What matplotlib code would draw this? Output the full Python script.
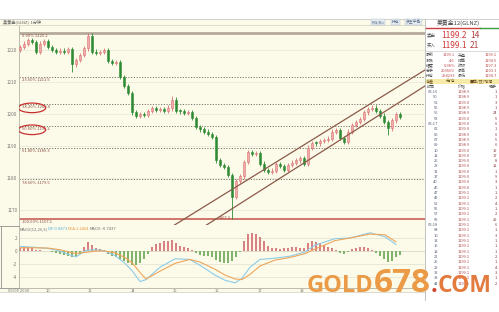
import matplotlib
matplotlib.use("Agg")
import matplotlib.pyplot as plt
from matplotlib.patches import Ellipse, Rectangle
from matplotlib.lines import Line2D
import numpy as np

plt.rcParams['font.family'] = ['Noto Sans CJK SC', 'DejaVu Sans']

W, H = 499, 312

# ---- price data (one candle per slot, opens follow previous close) ----
first_open = 1220.0
closes = [1221.0, 1222.0, 1223.0, 1222.5, 1219.5, 1222.0, 1222.8, 1221.0, 1220.0, 1219.5,
          1219.8, 1219.3, 1220.2, 1215.5, 1216.8, 1218.5, 1220.5, 1224.5, 1219.5, 1219.0,
          1219.3, 1220.0, 1216.5, 1216.0, 1216.3, 1211.5, 1208.8, 1206.5, 1200.5, 1199.5,
          1200.0, 1199.8, 1201.0, 1201.8, 1201.2, 1201.6, 1201.0, 1202.0, 1204.5, 1201.0,
          1200.8, 1200.3, 1200.6, 1198.8, 1196.0, 1195.2, 1194.5, 1193.8, 1192.8, 1185.5,
          1184.0, 1183.5, 1181.0, 1174.0, 1179.0, 1180.5, 1185.0, 1188.0, 1187.5, 1187.8,
          1184.5, 1182.5, 1182.0, 1182.3, 1184.3, 1183.8, 1182.5, 1184.0, 1184.8, 1185.5,
          1186.2, 1184.5, 1189.5, 1191.0, 1190.8, 1191.5, 1191.8, 1192.3, 1194.5, 1195.0,
          1192.5, 1191.2, 1194.5, 1196.5, 1197.5, 1198.5, 1200.5, 1201.5, 1202.0, 1201.0,
          1199.5, 1197.5, 1195.5, 1198.0, 1200.0, 1199.1]
spike_idx = [13, 17, 38, 53, 92]
spike_high = [1216.0, 1225.2, 1205.6, 1181.0, 1196.0]
spike_low = [1213.0, 1219.8, 1200.8, 1167.3, 1193.5]

# fibonacci retracement
fib_top = 1225.2
fib_bottom = 1167.1
fib_pcts = [0.0, 23.6, 38.2, 50.0, 61.8, 78.6, 100.0]
circled_pcts = [38.2, 50.0]

# channel lines (candle index, price)
channel_x = [38.25, 101.25]
upper_y = [1165.0, 1213.75]
lower_x = [46.25, 101.25]
lower_y = [1165.0, 1208.75]

# MACD
hist = [0.5, 0.6, 0.55, 0.4, 0.15, 0.1, 0.05, -0.05, -0.2, -0.35,
        -0.5, -0.6, -0.7, -0.9, -0.8, -0.4, 0.6, 1.4, 0.9, 0.5,
        0.3, 0.1, -0.4, -0.7, -0.9, -1.3, -1.6, -1.9, -2.2, -2.1,
        -1.8, -1.2, -0.4, 0.6, 1.1, 1.3, 1.5, 1.6, 1.7, 1.2,
        0.8, 0.6, 0.5, 0.2, -0.3, -0.6, -0.7, -0.8, -0.9, -1.4,
        -1.7, -1.9, -1.8, -1.6, -0.9, -0.2, 1.6, 2.6, 2.8, 2.6,
        2.2, 1.5, 0.8, 0.4, 0.4, 0.3, 0.5, 0.5, 0.6, 0.6,
        0.5, 0.4, 1.2, 1.5, 1.4, 1.2, 0.9, 0.6, 0.4, 0.2,
        -0.3, -0.5, -0.1, 0.3, 0.5, 0.6, 0.6, 0.5, 0.2, -0.3,
        -0.8, -1.2, -1.7, -1.5, -0.9, -0.6]
macd_x = [0, 3, 7, 10, 12.5, 14, 16.5, 19, 21.25, 23.75, 26.25, 28, 30, 31.5, 35, 38.75,
          42.5, 45, 48.75, 51.25, 53.75, 55.5, 57.5, 60, 63.75, 67.5, 71.25, 73.75, 78.75,
          82.5, 87.5, 91.25, 94]
dif = [0.7, 0.6, 0.4, 0.0, -0.6, -0.9, 0.1, 0.2, 0.0, -0.7, -1.9, -3.0, -4.7, -4.4, -2.5, -1.2,
       -1.3, -2.2, -3.7, -4.5, -4.9, -4.2, -2.5, -1.3, -1.1, -0.8, -0.15, 0.9, 1.9, 2.0, 2.8, 2.2, 1.0]
dea = [0.5, 0.5, 0.45, 0.2, -0.2, -0.4, -0.2, 0.0, 0.0, -0.3, -1.0, -1.8, -3.3, -4.3, -3.1, -1.9,
       -1.3, -1.7, -2.8, -3.7, -4.3, -4.4, -3.6, -2.3, -1.4, -1.0, -0.4, 0.3, 1.6, 2.0, 2.6, 2.5, 1.4]

price_ticks = [1220, 1210, 1200, 1190, 1180, 1170]
macd_ticks = [2, 0, -2, -4]
day_pos = [-0.25, 7, 17.5, 28.25, 38.75, 49.25, 60, 70.5]
day_labels = ["09/05 2000", "10", "11", "14", "15", "16", "17", "18"]

# quote panel
quote_rows = [("最新", "1199.1", "开盘", "1199.1"),
              ("涨跌", "4.6", "结算", "1194.5"),
              ("幅度", "0.38%", "昨收", "1197.3"),
              ("总手", "203603", "最高", "1203.1"),
              ("持仓", "264233", "最低", "1194.7")]
tick_times = ["03:16", "50", "52", "55", "56", "58",
              "03:17", "02", "05", "07", "09", "10", "18", "26", "28", "31", "37", "40", "46",
              "47", "49", "52", "55", "57", "59",
              "03:18", "08", "10", "13", "16", "18", "21", "25", "29", "33", "38", "44"]
tick_prices = [1198.9, 1198.9, 1199.0, 1198.9, 1198.9, 1199.0,
               1199.0, 1199.0, 1198.9, 1198.9, 1198.9, 1199.0, 1199.0, 1199.0, 1199.0, 1199.0,
               1199.0, 1199.0, 1199.0, 1199.1, 1199.1, 1199.1, 1199.1, 1199.1, 1199.1,
               1199.1, 1199.1, 1199.1, 1199.1, 1199.1, 1199.1, 1199.1, 1199.1, 1199.1, 1199.1,
               1199.1, 1199.1]
tick_vols = [1, 1, 3, 1, 24, 5, 6, 1, 6, 5, 6, 19, 17, 8, 12, 1, 9, 3, 1, 1, 2, 4, 1, 2, 29,
             6, 1, 3, 1, 1, 1, 2, 1, 4, 3, 1, 2]

CREAM = '#fcfbe9'
UP_FACE = '#f2aaaa'
UP_EDGE = '#d77272'
DOWN = '#2e8b34'


def rect(x0, y0, x1, y1):
    return [x0 / W, 1 - y1 / H, (x1 - x0) / W, (y1 - y0) / H]


def fx(px):
    return px / W


def fy(py):
    return 1 - py / H


fig = plt.figure(figsize=(W / 100, H / 100), dpi=100)
fig.patch.set_facecolor('white')
fig.add_artist(Rectangle((0, fy(292)), fx(425), fy(19) - fy(292), transform=fig.transFigure,
                         facecolor=CREAM, edgecolor='none', zorder=0))

# ---- main candle panel ----
ax = fig.add_axes(rect(19, 25, 425, 225))
ax.set_facecolor(CREAM)
ax.set_xlim(-0.25, 101.25)
ax.set_ylim(1165.3, 1227.8)
for p in price_ticks:
    ax.axhline(p, color='#eceada', lw=0.6, zorder=0)

opens = [first_open] + closes[:-1]
for i, (o, c) in enumerate(zip(opens, closes)):
    hi = max(o, c) + 0.7
    lo = min(o, c) - 0.7
    if i in spike_idx:
        k = spike_idx.index(i)
        hi, lo = max(hi, spike_high[k]), min(lo, spike_low[k])
    up = c >= o
    ax.vlines(i, lo, hi, color=UP_EDGE if up else DOWN, lw=0.6, zorder=3)
    ax.bar(i, max(abs(c - o), 0.3), bottom=min(o, c), width=0.6,
           color=UP_FACE if up else DOWN, edgecolor=UP_EDGE if up else DOWN, lw=0.4, zorder=4)

for pct in fib_pcts:
    lvl = fib_top - pct / 100 * (fib_top - fib_bottom)
    if pct == 0:
        ax.axhline(lvl, color='#b5aa9c', lw=2.0, zorder=2)
    elif pct == 100:
        ax.axhline(lvl, color='#c4524a', lw=1.1, zorder=2)
    else:
        ax.axhline(lvl, color='#7a7468', lw=0.7, ls=(0, (1.2, 1.6)), zorder=2)
    ax.text(0.4, lvl - 0.35, f"{pct:.2f}% {lvl:.1f}", fontsize=3, color='#8a4a40',
            va='top', ha='left', zorder=5)
    if pct in circled_pcts:
        ax.add_patch(Ellipse((3.0, lvl - 1.1), 6.8, 3.0, facecolor='none',
                             edgecolor='#c83030', lw=0.9, zorder=6))

ax.plot(channel_x, upper_y, color='#8b5a4a', lw=0.9, zorder=5, clip_on=False)
ax.plot(lower_x, lower_y, color='#8b5a4a', lw=0.9, zorder=5, clip_on=False)
ax.text(52.6, 1167.6, "1167.3", fontsize=2.8, color='#8a4a40', ha='right', va='center', zorder=5)

ax.set_xticks([])
ax.set_yticks(price_ticks)
ax.set_yticklabels([str(p) for p in price_ticks])
ax.tick_params(axis='y', length=0, pad=1.2, labelsize=3.3, colors='#777777')
for s in ['top', 'right', 'bottom']:
    ax.spines[s].set_visible(False)
ax.spines['left'].set_color('#b4b2a4')
ax.spines['left'].set_linewidth(0.6)

# ---- MACD panel ----
ax2 = fig.add_axes(rect(19, 225, 425, 288))
ax2.set_facecolor(CREAM)
ax2.set_xlim(-0.25, 101.25)
ax2.set_ylim(-5.69, 4.0)
for t in macd_ticks:
    ax2.axhline(t, color='#e6e4d2' if t else '#d8d6c4', lw=0.6, zorder=0)
hcol = ['#d98080' if v >= 0 else '#7fb26a' for v in hist]
ax2.bar(np.arange(len(hist)), hist, width=0.5, color=hcol, zorder=2)
ax2.plot(macd_x, dif, color='#8ccbe8', lw=0.8, zorder=3)
ax2.plot(macd_x, dea, color='#efa55a', lw=0.8, zorder=3)
ax2.set_yticks(macd_ticks)
ax2.set_yticklabels([str(t) for t in macd_ticks])
ax2.set_xticks(day_pos)
ax2.set_xticklabels(day_labels)
ax2.tick_params(axis='y', length=0, pad=1.2, labelsize=3.3, colors='#777777')
ax2.tick_params(axis='x', length=0, pad=0.6, labelsize=3.0, colors='#777777')
for s in ['top', 'right']:
    ax2.spines[s].set_visible(False)
for s in ['left', 'bottom']:
    ax2.spines[s].set_color('#b4b2a4')
    ax2.spines[s].set_linewidth(0.6)

legend_parts = [(20, "MACD(12,26,9)", '#707070'), (48, "DIF:0.8873", '#5aaedc'),
                (68, "DEA:1.2464", '#e8963c'), (90, "MACD:-0.7437", '#707070')]
for px, txt, col in legend_parts:
    fig.text(fx(px), fy(229), txt, fontsize=3, color=col, va='center', ha='left')

# frame lines
for (x0, y0, x1, y1, col) in [(0, 19, 499, 19, '#c8c8c8'), (0, 25, 425, 25, '#d8d6c8'),
                              (0, 226, 19, 226, '#909090'), (0.5, 226, 0.5, 288, '#909090'),
                              (0, 288, 19, 288, '#909090'), (0, 292, 425, 292, '#d8d6c8'),
                              (425, 19, 425, 300, '#b8b8b8')]:
    fig.add_artist(Line2D([fx(x0), fx(x1)], [fy(y0), fy(y1)], transform=fig.transFigure,
                          color=col, lw=0.6))

fig.text(fx(3), fy(22), "美黄金(GLNZ)  1分钟", fontsize=3, color='#606060', va='center')
for px, txt in [(372, "K线/Bo"), (392, "持仓"), (406, "多空平衡")]:
    fig.text(fx(px), fy(22), txt, fontsize=2.8, color='#5a6a88', va='center',
             bbox=dict(boxstyle='square,pad=0.15', fc='#e4ecf0', ec='#b0c0cc', lw=0.3))

# ---- quote panel ----
fig.text(fx(458), fy(23), "美黄金12(GLNZ)", fontsize=4.2, color='#404040', ha='center', va='center')
fig.add_artist(Line2D([fx(426), fx(480)], [fy(27.5), fy(27.5)], transform=fig.transFigure,
                      color='#d04040', lw=1.0))
fig.add_artist(Line2D([fx(480), fx(499)], [fy(27.5), fy(27.5)], transform=fig.transFigure,
                      color='#3aa040', lw=1.0))
for py, lab, val, vol in [(35, "卖出", "1199.2", "14"), (45, "买入", "1199.1", "21")]:
    fig.text(fx(427), fy(py), lab, fontsize=3.2, color='#505050', va='center')
    fig.text(fx(441), fy(py), val, fontsize=6, color='#d03a3a', va='center')
    fig.text(fx(470), fy(py), vol, fontsize=6, color='#b04040', va='center')
fig.add_artist(Line2D([fx(425), fx(499)], [fy(50.5), fy(50.5)], transform=fig.transFigure,
                      color='#cccccc', lw=0.5))
for k, (l1, v1, l2, v2) in enumerate(quote_rows):
    py = 55.5 + k * 5.2
    fig.text(fx(426), fy(py), l1, fontsize=2.9, color='#505050', va='center')
    fig.text(fx(455), fy(py), v1, fontsize=2.9, color='#c04848', va='center', ha='right')
    fig.text(fx(458), fy(py), l2, fontsize=2.9, color='#505050', va='center')
    fig.text(fx(497), fy(py), v2, fontsize=2.9, color='#c04848', va='center', ha='right')
fig.add_artist(Rectangle((fx(425), fy(84.5)), fx(74), fy(79) - fy(84.5), transform=fig.transFigure,
                         facecolor='#f6eba8', edgecolor='none'))
fig.text(fx(426), fy(81.7), "仓差", fontsize=2.9, color='#6a4a20', va='center')
fig.text(fx(446), fy(81.7), "无/仓", fontsize=2.9, color='#6a4a20', va='center')
fig.text(fx(470), fy(81.7), "■单/双/增减", fontsize=2.9, color='#6a4a20', va='center')
fig.text(fx(427), fy(87.2), "时间", fontsize=2.9, color='#505050', va='center')
fig.text(fx(458), fy(87.2), "价格", fontsize=2.9, color='#505050', va='center')
fig.text(fx(489), fy(87.2), "现手", fontsize=2.9, color='#505050', va='center')
for k, (t, p, v) in enumerate(zip(tick_times, tick_prices, tick_vols)):
    py = 92 + k * 5.32
    fig.text(fx(438), fy(py), t, fontsize=2.9, color='#5a6478', va='center', ha='right')
    fig.text(fx(470), fy(py), f"{p:.1f}", fontsize=2.9, color='#b04a4a', va='center', ha='right')
    fig.text(fx(497), fy(py), str(v), fontsize=2.9, color='#8a3a3a', va='center', ha='right')

# ---- watermark ----
renderer = fig.canvas.get_renderer()
x = fx(307)
for txt, size, col in [("GOLD", 17, '#eb9a45'), ("678", 24, '#eb9a45'),
                       (".", 17, '#d2442a'), ("COM", 16.5, '#e37a3e')]:
    t = fig.text(x, fy(292), txt, fontsize=size, fontweight='bold', color=col,
                 family=['Open Sans', 'DejaVu Sans'], va='baseline', ha='left', zorder=10)
    bb = t.get_window_extent(renderer)
    x = bb.x1 / fig.bbox.width

fig.savefig('out.png', dpi=100, facecolor='white')
